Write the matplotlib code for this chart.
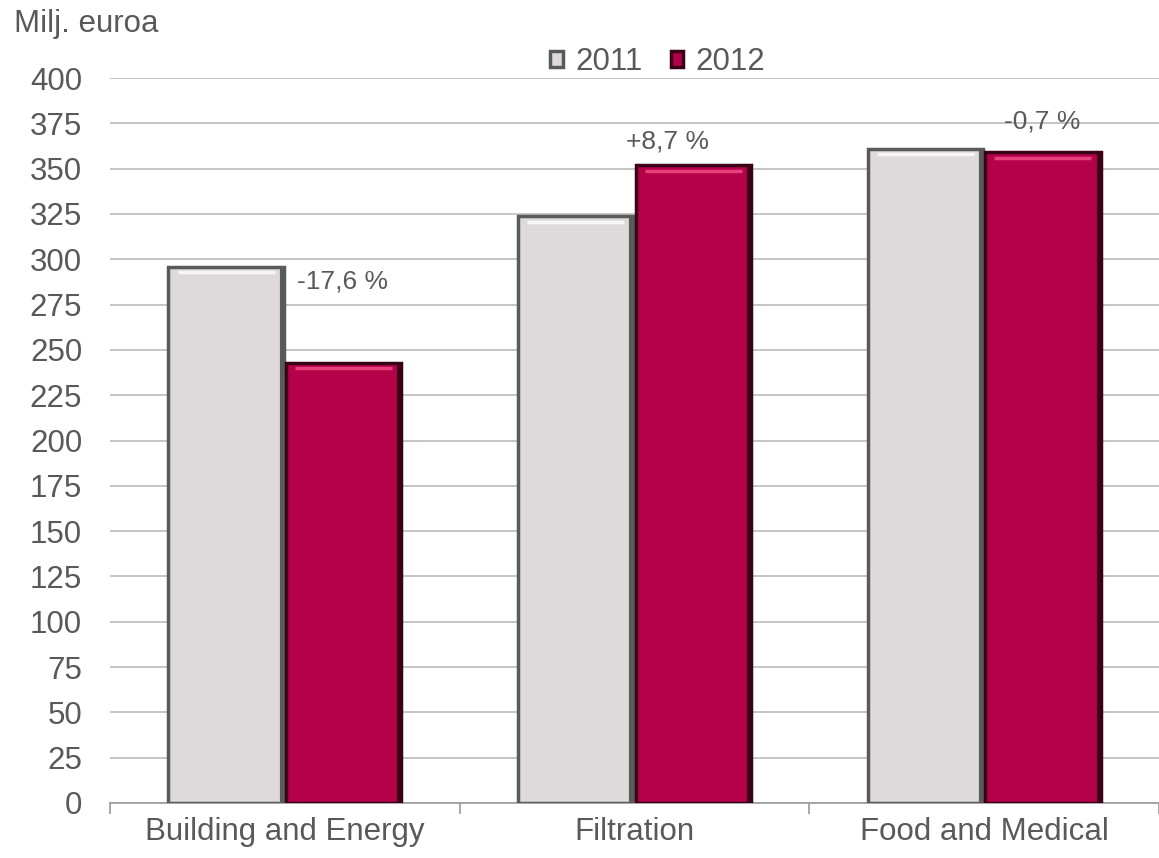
import matplotlib.pyplot as plt
import numpy as np

plt.rcParams['font.family'] = ['Liberation Sans', 'DejaVu Sans']

categories = ["Building and Energy", "Filtration", "Food and Medical"]
years = ["2011", "2012"]
values_2011 = [296, 324, 361]
values_2012 = [243, 352, 359]
changes = ["-17,6 %", "+8,7 %", "-0,7 %"]
change_y = [288, 365, 376]
change_dx = [0.0, -0.07, 0.0]

TEXT = '#595959'
GRID = '#c0c0c0'
FS = 22.5

fig = plt.figure(figsize=(11.59, 8.58), dpi=100)
ax = fig.add_axes([110 / 1159, 55 / 858, 1 - 110 / 1159, 725 / 858])

x = np.arange(len(categories))
w = 0.33
gap = 0.003

def bevel_bars(xs, vals, face, edge, hi):
    bars = ax.bar(xs, vals, width=w, color=face, edgecolor=edge, linewidth=2.5, zorder=3)
    for b in bars:
        bx, bw, bh = b.get_x(), b.get_width(), b.get_height()
        # top highlight strip and darker right side for the bevel look
        ax.plot([bx + bw * 0.08, bx + bw * 0.92], [bh - 3.2, bh - 3.2], color=hi, lw=2.5,
                solid_capstyle='butt', zorder=4)
        ax.plot([bx + bw - 0.006, bx + bw - 0.006], [1.5, bh - 1.5], color=edge, lw=3, zorder=4)
    return bars

b1 = bevel_bars(x - w / 2 - gap, values_2011, '#dedadb', '#5a5a5a', '#f7f5f6')
b2 = bevel_bars(x + w / 2 + gap, values_2012, '#b5004a', '#3a0016', '#e8407a')

for i, t in enumerate(changes):
    ax.text(x[i] + w / 2 + change_dx[i], change_y[i], t, ha='center', va='center',
            fontsize=19, color=TEXT)

ax.set_ylim(0, 400)
ax.set_xlim(-0.5, 2.5 - 13 / 354)
ax.set_yticks(np.arange(0, 401, 25))
ax.yaxis.grid(True, color=GRID, lw=1.3, zorder=0)
ax.set_axisbelow(True)
ax.tick_params(axis='y', length=0, labelsize=FS, labelcolor=TEXT, pad=20)

ax.set_xticks([-0.5, 0.5, 1.5, 2.5])
ax.set_xticklabels([])
ax.tick_params(axis='x', which='major', length=8, color='#999999', width=1.2)
ax.set_xticks(x, minor=True)
ax.set_xticklabels(categories, minor=True)
ax.tick_params(axis='x', which='minor', length=0, labelsize=FS, labelcolor=TEXT, pad=10)

for s in ['top', 'right', 'left']:
    ax.spines[s].set_visible(False)
ax.spines['bottom'].set_color('#999999')
ax.spines['bottom'].set_linewidth(1.2)

fig.text(14 / 1159, 1 - 24 / 858, "Milj. euroa", fontsize=FS, color=TEXT, va='center', ha='left')

leg = fig.legend([b1, b2], years, loc='center', bbox_to_anchor=(658 / 1159, 1 - 62 / 858),
                 ncol=2, frameon=False, fontsize=FS, handlelength=0.4, handleheight=0.4,
                 handletextpad=0.4, columnspacing=0.9, labelcolor=TEXT)

fig.savefig("out.png", dpi=100)
